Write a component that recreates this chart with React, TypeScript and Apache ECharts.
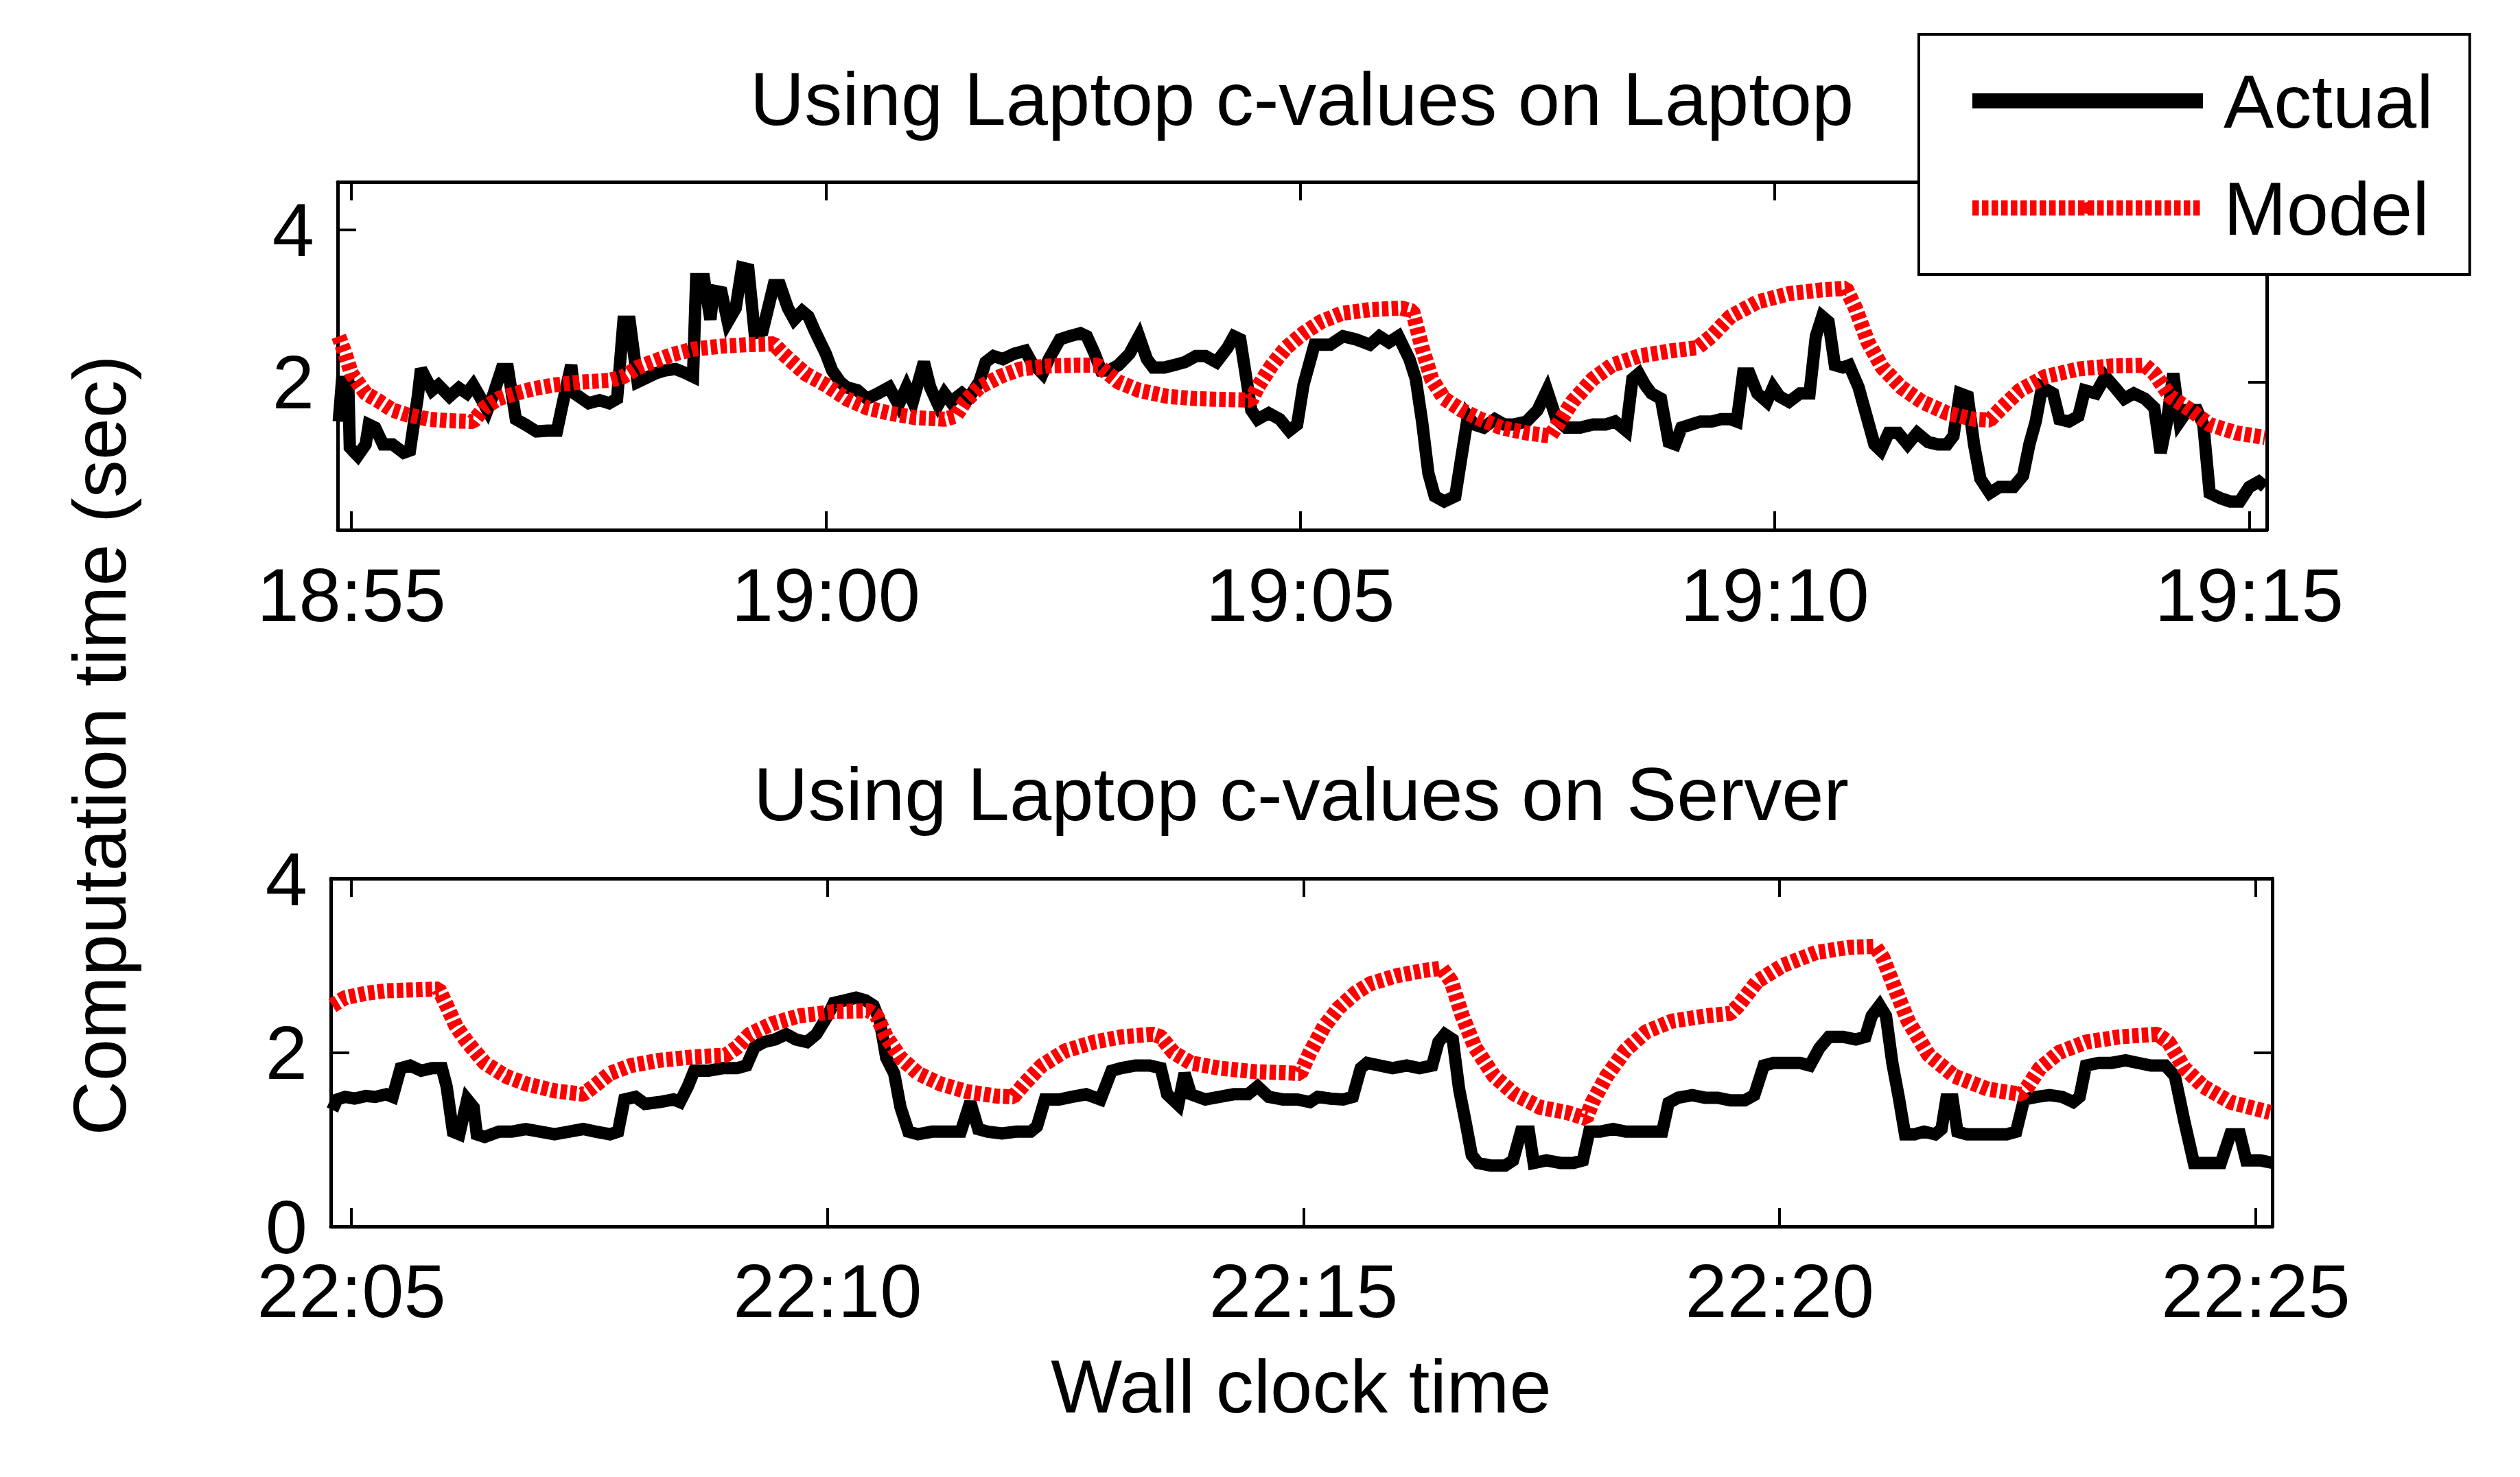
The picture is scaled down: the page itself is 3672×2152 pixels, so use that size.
import React, { useEffect, useRef } from 'react';
import * as echarts from 'echarts';

const FONT = '"Liberation Sans", Arial, Helvetica, sans-serif';

const topTitle = 'Using Laptop c-values on Laptop';
const bottomTitle = 'Using Laptop c-values on Server';
const yTitle = 'Computation time (sec)';
const xTitle = 'Wall clock time';
const seriesNames = ['Actual', 'Model'];

// seconds after the first tick (18:55 for the top panel, 22:05 for the bottom one)
const tickSeconds = [0, 300, 600, 900, 1200];
const topTickLabels = ['18:55', '19:00', '19:05', '19:10', '19:15'];
const bottomTickLabels = ['22:05', '22:10', '22:15', '22:20', '22:25'];
const topYTicks = [2, 4];
const bottomYTicks = [0, 2, 4];

// [seconds, computation time]
const topActual: [number, number][] = [
  [-8, 1.48], [-6, 2.0], [-2, 2.0], [-1, 1.14], [4, 1.03], [9, 1.18], [11, 1.44], [15, 1.4], [20, 1.18], [26, 1.18],
  [33, 1.07], [37, 1.1], [42, 1.81], [44, 2.17], [51, 1.89], [55, 1.96], [62, 1.81], [68, 1.92], [73, 1.85], [77, 1.96],
  [82, 1.78], [86, 1.63], [90, 1.85], [95, 2.17], [99, 2.17], [104, 1.51], [110, 1.44], [117, 1.35], [124, 1.36], [130, 1.36],
  [135, 1.85], [139, 2.22], [141, 1.85], [150, 1.72], [157, 1.76], [163, 1.72], [168, 1.78], [172, 2.79], [176, 2.79], [181, 2.0],
  [185, 2.04], [192, 2.11], [198, 2.15], [205, 2.17], [212, 2.11], [216, 2.07], [218, 3.35], [223, 3.35], [227, 2.82], [229, 3.2],
  [234, 3.18], [238, 2.79], [243, 2.97], [247, 3.5], [251, 3.48], [255, 2.64], [260, 2.67], [267, 3.27], [271, 3.27], [276, 2.97],
  [280, 2.82], [285, 2.93], [289, 2.86], [293, 2.67], [300, 2.37], [304, 2.15], [309, 2.0], [313, 1.93], [320, 1.89], [326, 1.78],
  [333, 1.85], [340, 1.93], [346, 1.7], [351, 1.93], [355, 1.74], [362, 2.26], [366, 1.93], [371, 1.7], [375, 1.85], [379, 1.74],
  [386, 1.85], [390, 1.78], [397, 2.0], [401, 2.26], [406, 2.34], [412, 2.3], [419, 2.37], [426, 2.41], [430, 2.26], [437, 2.11],
  [441, 2.3], [448, 2.56], [454, 2.6], [461, 2.64], [465, 2.6], [470, 2.37], [474, 2.15], [479, 2.15], [485, 2.22], [492, 2.37],
  [498, 2.6], [503, 2.3], [507, 2.19], [514, 2.19], [520, 2.22], [527, 2.26], [534, 2.34], [540, 2.34], [547, 2.26], [554, 2.45],
  [558, 2.6], [562, 2.56], [569, 1.63], [573, 1.51], [580, 1.59], [587, 1.51], [593, 1.36], [598, 1.44], [602, 1.96], [609, 2.49],
  [619, 2.49], [627, 2.6], [635, 2.56], [644, 2.49], [650, 2.6], [656, 2.52], [662, 2.6], [669, 2.3], [673, 2.04], [677, 1.48],
  [681, 0.8], [685, 0.5], [691, 0.43], [698, 0.5], [702, 1.03], [706, 1.55], [710, 1.44], [716, 1.4], [723, 1.51], [729, 1.44],
  [735, 1.44], [743, 1.48], [750, 1.63], [756, 1.89], [762, 1.51], [768, 1.4], [777, 1.4], [785, 1.44], [793, 1.44], [799, 1.48],
  [806, 1.36], [810, 2.04], [814, 2.11], [818, 1.96], [822, 1.85], [828, 1.78], [833, 1.21], [837, 1.18], [841, 1.4], [847, 1.44],
  [853, 1.48], [860, 1.48], [866, 1.51], [872, 1.51], [876, 1.48], [880, 2.11], [884, 2.11], [889, 1.85], [895, 1.74], [899, 1.93],
  [903, 1.81], [909, 1.74], [916, 1.85], [922, 1.85], [926, 2.6], [930, 2.86], [934, 2.79], [938, 2.22], [943, 2.19], [947, 2.22],
  [953, 1.93], [959, 1.48], [963, 1.18], [967, 1.1], [972, 1.33], [978, 1.33], [984, 1.18], [990, 1.33], [997, 1.21], [1003, 1.18],
  [1009, 1.18], [1013, 1.29], [1017, 1.85], [1022, 1.81], [1026, 1.18], [1030, 0.73], [1036, 0.54], [1042, 0.62], [1051, 0.62], [1057, 0.77],
  [1061, 1.18], [1065, 1.48], [1069, 1.93], [1076, 1.85], [1080, 1.51], [1086, 1.48], [1092, 1.55], [1096, 1.89], [1103, 1.85], [1109, 2.07],
  [1115, 1.93], [1121, 1.78], [1127, 1.85], [1134, 1.78], [1140, 1.66], [1144, 1.07], [1148, 1.48], [1152, 2.11], [1156, 1.48], [1161, 1.63],
  [1167, 1.63], [1171, 1.44], [1175, 0.54], [1182, 0.47], [1188, 0.43], [1194, 0.43], [1200, 0.62], [1206, 0.69], [1210, 0.62],
];

const topModel: [number, number][] = [
  [-8, 2.6], [-4, 2.37], [0, 2.11], [9, 1.85], [18, 1.74], [26, 1.63], [35, 1.57], [49, 1.51], [62, 1.49], [77, 1.48],
  [84, 1.66], [93, 1.78], [104, 1.85], [115, 1.91], [128, 1.96], [146, 2.0], [163, 2.02], [172, 2.07], [181, 2.19], [190, 2.26],
  [203, 2.36], [216, 2.43], [234, 2.47], [251, 2.49], [267, 2.5], [273, 2.37], [287, 2.11], [300, 1.96], [313, 1.78], [326, 1.66],
  [340, 1.59], [357, 1.53], [375, 1.51], [382, 1.55], [388, 1.74], [397, 1.93], [410, 2.07], [423, 2.17], [441, 2.21], [459, 2.22],
  [472, 2.22], [476, 2.15], [485, 2.0], [498, 1.89], [516, 1.81], [534, 1.78], [551, 1.77], [569, 1.76], [573, 1.93], [582, 2.22],
  [591, 2.45], [602, 2.64], [613, 2.79], [626, 2.9], [644, 2.95], [664, 2.97], [671, 2.93], [677, 2.45], [683, 2.04], [691, 1.78],
  [702, 1.63], [714, 1.51], [727, 1.4], [743, 1.33], [758, 1.29], [764, 1.48], [772, 1.74], [785, 2.04], [797, 2.22], [814, 2.34],
  [835, 2.41], [851, 2.45], [860, 2.6], [872, 2.86], [889, 3.05], [909, 3.16], [930, 3.21], [945, 3.23], [951, 2.97], [959, 2.52],
  [968, 2.19], [980, 1.93], [993, 1.74], [1009, 1.59], [1026, 1.51], [1036, 1.5], [1042, 1.63], [1055, 1.89], [1071, 2.07], [1092, 2.17],
  [1113, 2.21], [1134, 2.22], [1140, 2.11], [1150, 1.81], [1163, 1.63], [1175, 1.44], [1192, 1.33], [1210, 1.27],
];

const bottomActual: [number, number][] = [
  [-12, 1.34], [-9, 1.46], [-4, 1.49], [2, 1.47], [9, 1.5], [15, 1.49], [22, 1.52], [26, 1.49], [31, 1.82], [37, 1.85],
  [44, 1.79], [51, 1.82], [57, 1.82], [60, 1.61], [64, 1.09], [68, 1.06], [73, 1.46], [77, 1.37], [79, 1.06], [84, 1.03],
  [93, 1.09], [101, 1.09], [110, 1.12], [119, 1.09], [128, 1.06], [137, 1.09], [146, 1.12], [154, 1.09], [163, 1.06], [168, 1.09],
  [172, 1.46], [179, 1.49], [185, 1.41], [194, 1.43], [203, 1.46], [207, 1.43], [212, 1.61], [216, 1.79], [225, 1.79], [234, 1.82],
  [243, 1.82], [249, 1.85], [254, 2.06], [260, 2.12], [267, 2.15], [274, 2.21], [280, 2.15], [287, 2.12], [293, 2.21], [300, 2.42],
  [304, 2.57], [311, 2.6], [318, 2.63], [324, 2.6], [329, 2.54], [333, 2.36], [337, 1.94], [342, 1.76], [346, 1.37], [351, 1.09],
  [357, 1.06], [366, 1.09], [375, 1.09], [384, 1.09], [390, 1.43], [395, 1.12], [401, 1.09], [410, 1.07], [419, 1.09], [428, 1.09],
  [432, 1.15], [437, 1.46], [446, 1.46], [454, 1.49], [463, 1.52], [472, 1.46], [479, 1.79], [485, 1.82], [494, 1.85], [503, 1.85],
  [510, 1.82], [514, 1.52], [521, 1.4], [525, 1.76], [529, 1.52], [538, 1.46], [547, 1.49], [556, 1.52], [565, 1.52], [571, 1.61],
  [578, 1.49], [587, 1.46], [596, 1.46], [604, 1.43], [609, 1.49], [617, 1.47], [625, 1.46], [631, 1.49], [636, 1.82], [640, 1.88],
  [648, 1.85], [656, 1.82], [665, 1.85], [673, 1.82], [681, 1.85], [685, 2.12], [689, 2.21], [694, 2.15], [698, 1.58], [702, 1.21],
  [706, 0.82], [710, 0.73], [718, 0.7], [727, 0.7], [732, 0.76], [737, 1.09], [742, 1.09], [745, 0.73], [753, 0.76], [762, 0.73],
  [770, 0.73], [776, 0.76], [780, 1.09], [787, 1.09], [795, 1.12], [803, 1.09], [811, 1.09], [820, 1.09], [826, 1.09], [830, 1.42],
  [836, 1.48], [845, 1.51], [853, 1.48], [861, 1.48], [869, 1.45], [878, 1.45], [884, 1.51], [890, 1.85], [896, 1.88], [905, 1.88],
  [913, 1.88], [919, 1.85], [925, 2.05], [931, 2.18], [940, 2.18], [948, 2.15], [954, 2.18], [958, 2.42], [963, 2.54], [967, 2.42],
  [971, 1.88], [975, 1.49], [979, 1.06], [985, 1.06], [991, 1.09], [998, 1.06], [1002, 1.12], [1005, 1.46], [1009, 1.46], [1012, 1.09],
  [1018, 1.06], [1027, 1.06], [1035, 1.06], [1043, 1.06], [1049, 1.09], [1054, 1.46], [1062, 1.49], [1070, 1.51], [1078, 1.49], [1085, 1.43],
  [1089, 1.49], [1093, 1.85], [1101, 1.88], [1109, 1.88], [1118, 1.91], [1126, 1.88], [1134, 1.85], [1143, 1.85], [1149, 1.73], [1155, 1.21],
  [1161, 0.73], [1169, 0.73], [1178, 0.73], [1184, 1.06], [1190, 1.06], [1194, 0.76], [1203, 0.76], [1211, 0.73],
];

const bottomModel: [number, number][] = [
  [-12, 2.54], [-4, 2.63], [9, 2.68], [22, 2.71], [40, 2.72], [55, 2.73], [60, 2.54], [66, 2.3], [73, 2.12], [84, 1.88],
  [97, 1.73], [110, 1.64], [128, 1.56], [146, 1.52], [152, 1.6], [163, 1.76], [176, 1.85], [194, 1.91], [216, 1.95], [236, 1.97],
  [243, 2.06], [251, 2.21], [265, 2.33], [282, 2.42], [304, 2.47], [326, 2.48], [331, 2.42], [337, 2.18], [346, 1.94], [357, 1.76],
  [371, 1.64], [388, 1.55], [406, 1.5], [417, 1.49], [424, 1.64], [435, 1.85], [450, 2.02], [468, 2.12], [485, 2.18], [505, 2.21],
  [510, 2.18], [518, 2.0], [529, 1.88], [547, 1.82], [569, 1.78], [598, 1.76], [604, 2.0], [613, 2.3], [622, 2.51], [633, 2.69],
  [642, 2.79], [658, 2.88], [675, 2.94], [687, 2.97], [693, 2.82], [700, 2.42], [708, 2.06], [720, 1.73], [733, 1.52], [749, 1.37],
  [766, 1.31], [778, 1.24], [782, 1.43], [791, 1.73], [803, 2.03], [816, 2.24], [832, 2.36], [853, 2.42], [869, 2.45], [874, 2.54],
  [886, 2.82], [902, 3.0], [923, 3.15], [944, 3.21], [960, 3.22], [965, 3.09], [973, 2.72], [981, 2.36], [994, 1.97], [1010, 1.73],
  [1031, 1.58], [1052, 1.52], [1056, 1.6], [1064, 1.82], [1076, 2.0], [1093, 2.12], [1114, 2.18], [1138, 2.21], [1145, 2.12], [1155, 1.82],
  [1167, 1.61], [1184, 1.43], [1209, 1.31],
];

const AXIS_W = 5;
const TICK_W = 4;
const TICK_LEN = 27;
const FS = 110;

function makeXAxes(gridIndex: number, min: number, max: number, labels: string[], margin: number) {
  const common: any = {
    type: 'value',
    gridIndex,
    min,
    max,
    splitLine: { show: false },
    axisLine: { show: true, onZero: false, lineStyle: { color: '#000', width: AXIS_W } },
    axisTick: { show: true, inside: true, length: TICK_LEN, customValues: tickSeconds, lineStyle: { color: '#000', width: TICK_W } },
  };
  return [
    {
      ...common,
      position: 'bottom',
      axisLabel: {
        show: true,
        customValues: tickSeconds,
        formatter: (v: number) => {
          const i = tickSeconds.indexOf(Math.round(v));
          return i >= 0 ? labels[i] : '';
        },
        fontSize: FS,
        lineHeight: 80,
        fontFamily: FONT,
        color: '#000',
        margin,
        verticalAlign: 'middle',
      },
    },
    { ...common, position: 'top', axisLabel: { show: false } },
  ];
}

function makeYAxes(gridIndex: number, min: number, max: number, ticks: number[]) {
  const common: any = {
    type: 'value',
    gridIndex,
    min,
    max,
    splitLine: { show: false },
    axisLine: { show: true, onZero: false, lineStyle: { color: '#000', width: AXIS_W } },
    axisTick: { show: true, inside: true, length: TICK_LEN, customValues: ticks, lineStyle: { color: '#000', width: TICK_W } },
  };
  return [
    {
      ...common,
      position: 'left',
      axisLabel: {
        show: true,
        customValues: ticks,
        formatter: (v: number) => String(Math.round(v)),
        fontSize: FS,
        lineHeight: 80,
        fontFamily: FONT,
        color: '#000',
        margin: 34,
      },
    },
    { ...common, position: 'right', axisLabel: { show: false } },
  ];
}

function lineSeries(name: string, data: [number, number][], xi: number, yi: number) {
  const isModel = name === seriesNames[1];
  return {
    name,
    type: 'line',
    xAxisIndex: xi,
    yAxisIndex: yi,
    data,
    symbol: 'none',
    showSymbol: false,
    silent: true,
    z: isModel ? 3 : 2,
    emphasis: { disabled: true },
    itemStyle: { color: isModel ? '#ff0000' : '#000000' },
    lineStyle: isModel
      ? { color: '#ff0000', width: 22, type: [9.5, 4.5], cap: 'butt', join: 'bevel' }
      : { color: '#000000', width: 18, type: 'solid', cap: 'butt', join: 'miter', miterLimit: 3 },
  };
}

export default function App() {
  const ref = useRef<HTMLDivElement>(null);

  useEffect(() => {
    if (!ref.current) return;
    const chart = echarts.init(ref.current, undefined, { renderer: 'svg' });

    const option: any = {
      animation: false,
      backgroundColor: '#ffffff',
      textStyle: { fontFamily: FONT },
      title: [
        {
          text: topTitle,
          left: 1897,
          top: 143,
          textAlign: 'center',
          textVerticalAlign: 'middle',
          padding: 0,
          textStyle: { fontSize: FS, fontWeight: 'normal', fontFamily: FONT, color: '#000' },
        },
        {
          text: bottomTitle,
          left: 1896,
          top: 1156,
          textAlign: 'center',
          textVerticalAlign: 'middle',
          padding: 0,
          textStyle: { fontSize: FS, fontWeight: 'normal', fontFamily: FONT, color: '#000' },
        },
      ],
      grid: [
        { left: 492, top: 265, width: 2811, height: 507, containLabel: false, outerBoundsMode: 'none' },
        { left: 482, top: 1280, width: 2829, height: 507, containLabel: false, outerBoundsMode: 'none' },
      ],
      xAxis: [
        ...makeXAxes(0, -8.7, 1211.1, topTickLabels, 94),
        ...makeXAxes(1, -13, 1210.4, bottomTickLabels, 93),
      ],
      yAxis: [
        ...makeYAxes(0, 0.057, 4.628, topYTicks),
        ...makeYAxes(1, 0, 4, bottomYTicks),
      ],
      legend: {
        show: true,
        orient: 'vertical',
        left: 2796,
        top: 50,
        itemWidth: 336,
        itemHeight: 22,
        itemGap: 46,
        padding: [42, 53, 42, 67],
        borderColor: '#000',
        borderWidth: 4,
        borderRadius: 0,
        backgroundColor: '#ffffff',
        selectedMode: false,
        z: 10,
        textStyle: { fontSize: FS, fontFamily: FONT, color: '#000', padding: [0, 0, 0, 25] },
        lineStyle: { width: 22 },
        data: [
          { name: seriesNames[0], lineStyle: { width: 22 } },
          { name: seriesNames[1], lineStyle: { width: 22 } },
        ],
      },
      graphic: [
        {
          type: 'text',
          x: 144,
          y: 1086,
          rotation: Math.PI / 2,
          style: {
            text: yTitle,
            fontSize: FS,
            fontFamily: FONT,
            fill: '#000',
            align: 'center',
            verticalAlign: 'middle',
          },
        },
        {
          type: 'text',
          x: 1896,
          y: 2019,
          style: {
            text: xTitle,
            fontSize: FS,
            fontFamily: FONT,
            fill: '#000',
            align: 'center',
            verticalAlign: 'middle',
          },
        },
      ],
      series: [
        lineSeries(seriesNames[0], topActual, 0, 0),
        lineSeries(seriesNames[1], topModel, 0, 0),
        lineSeries(seriesNames[0], bottomActual, 2, 2),
        lineSeries(seriesNames[1], bottomModel, 2, 2),
      ],
    };

    chart.setOption(option);
    return () => {
      chart.dispose();
    };
  }, []);

  return (
    <div
      ref={ref}
      style={{ position: 'fixed', left: 0, top: 0, width: 3672, height: 2152, background: '#fff' }}
    />
  );
}
